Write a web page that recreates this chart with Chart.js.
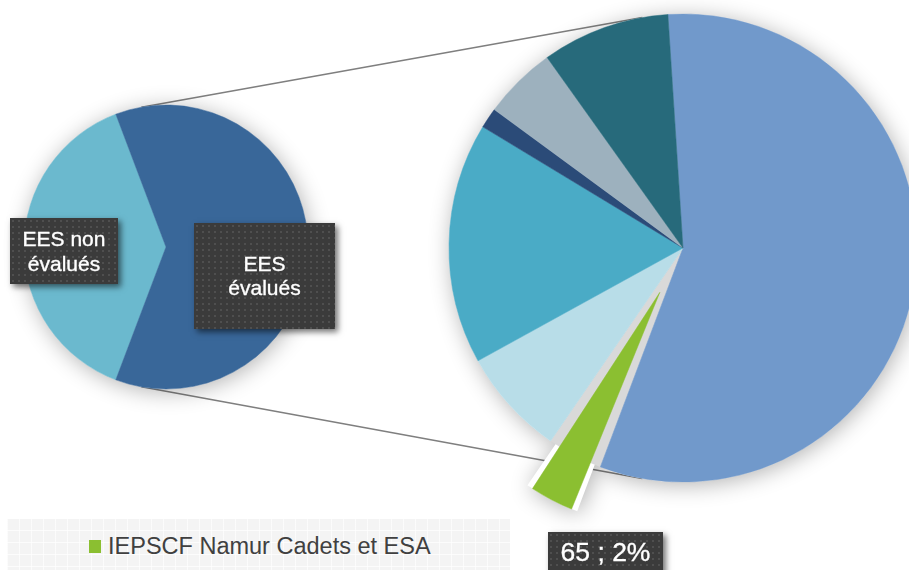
<!DOCTYPE html>
<html>
<head>
<meta charset="utf-8">
<script src="https://cdn.jsdelivr.net/npm/chart.js@4.4.1/dist/chart.umd.min.js"></script>
<style>
html,body{margin:0;padding:0;width:909px;height:570px;overflow:hidden;background:#fff;font-family:"Liberation Sans",Arial,Helvetica,sans-serif;}
#wrap{position:relative;width:909px;height:570px;overflow:hidden;}
canvas{position:absolute;}
#lines{left:0;top:0;z-index:0;}
#small{left:-4px;top:77px;z-index:1;}
#big{left:363px;top:-72px;z-index:1;}
.lbl{position:absolute;z-index:3;background-color:#3b3b3b;
  background-image:radial-gradient(circle, rgba(255,255,255,0.10) 0.9px, transparent 1.4px);
  background-size:6px 6px;color:#fff;box-shadow:3px 3px 6px rgba(0,0,0,0.55);
  -webkit-text-stroke:0.35px #fff;
  display:flex;align-items:center;justify-content:center;text-align:center;}
.lbl span{display:block;}
#lblNon{left:10px;top:218px;width:108px;height:66px;font-size:21px;line-height:25px;}
#lblNon span{width:96px;}
#lblEval{left:194px;top:223px;width:141px;height:106px;font-size:21px;line-height:24px;}
#lblEval span{width:90px;}
#lblGreen{left:548px;top:532px;width:115px;height:50px;font-size:26.5px;line-height:30px;align-items:flex-start;padding-top:5px;box-sizing:border-box;}
#legend{position:absolute;z-index:2;left:7px;top:519px;width:503px;height:60px;
  background-color:#f4f4f4;
  background-image:repeating-linear-gradient(0deg, rgba(255,255,255,0.7) 0 1px, transparent 1px 12px),
                   repeating-linear-gradient(90deg, rgba(255,255,255,0.7) 0 1px, transparent 1px 12px);}
.lgBox{position:absolute;left:82px;top:21px;width:12px;height:13px;}
.lgTxt{position:absolute;left:101px;top:14px;font-size:23.5px;line-height:27px;color:#404040;white-space:nowrap;}
</style>
</head>
<body>
<div id="wrap">
  <canvas id="lines" width="909" height="570"></canvas>
  <canvas id="small" width="340" height="340"></canvas>
  <canvas id="big" width="640" height="640"></canvas>
  <div id="legend"></div>
  <div class="lbl" id="lblNon"><span></span></div>
  <div class="lbl" id="lblEval"><span></span></div>
  <div class="lbl" id="lblGreen"><span></span></div>
</div>
<script>
// ---------- DATA ----------
const primaryLabels = ['EES non évalués', 'EES évalués'];
const primaryValues = [1063, 1698];
const primaryColors = ['#6BB9CE', '#396799'];

const secondaryLabels = ['EES 1', 'IEPSCF Namur Cadets et ESA', 'EES 2', 'EES 3', 'EES 4', 'EES 5', 'EES 6'];
const secondaryValues = [964, 65, 126, 283, 24, 86, 150];
const secondaryColors = ['#7199CB', '#8BBF31', '#B8DDE8', '#4AABC6', '#2B4B78', '#9DB1BE', '#276A7B'];

const explodedLabel = 'IEPSCF Namur Cadets et ESA';
const legendShown = ['IEPSCF Namur Cadets et ESA'];

// ---------- PLUGINS ----------
// Chart.js v4 translates an arc by offset/4 and also grows its radius;
// keep the radius equal to the pie radius so the slice is purely pulled out.
const explodeFix = {
  id:'explodeFix',
  afterDatasetUpdate(chart, args){
    const meta = chart.getDatasetMeta(args.index);
    const R = meta.controller.outerRadius;
    meta.data.forEach(a => {
      a.$baseR = R;
      const o = (a.options && a.options.offset) || 0;
      if (o) {
        const fix = 1 - Math.sin(Math.min(Math.PI, a.circumference || 0));
        a.outerRadius = R - (o / 4) * fix;
      }
    });
  }
};
function arcGeom(a){
  const p = a.getProps(['x','y','startAngle','endAngle'], true);
  const off = ((a.options && a.options.offset) || 0) / 4;
  const mid = (p.startAngle + p.endAngle) / 2;
  return {x:p.x, y:p.y, s:p.startAngle, e:p.endAngle, r:a.$baseR, off:off,
          ox:p.x + Math.cos(mid)*off, oy:p.y + Math.sin(mid)*off};
}
const shadowPlugin = {
  id:'pieShadow',
  beforeDatasetsDraw(chart){
    const ctx = chart.ctx;
    const arcs = chart.getDatasetMeta(0).data;
    ctx.save();
    ctx.shadowColor = 'rgba(0,0,0,0.30)';
    ctx.shadowBlur = 22;
    ctx.shadowOffsetX = 2;
    ctx.shadowOffsetY = 3;
    ctx.fillStyle = '#ffffff';
    ctx.beginPath();
    arcs.forEach(a => {
      const g = arcGeom(a);
      ctx.moveTo(g.ox, g.oy);
      ctx.arc(g.ox, g.oy, g.r, g.s, g.e);
      ctx.closePath();
    });
    ctx.fill();
    ctx.restore();
    ctx.save();
    ctx.fillStyle = '#D9D9D9';
    arcs.forEach(a => {
      const g = arcGeom(a);
      if (g.off > 0) {
        ctx.beginPath();
        ctx.moveTo(g.x, g.y);
        ctx.arc(g.x, g.y, g.r, g.s, g.e);
        ctx.closePath();
        ctx.fill();
      }
    });
    ctx.restore();
  }
};

const common = {
  responsive:false, animation:false,
  layout:{padding:0},
  plugins:{legend:{display:false}, tooltip:{enabled:false}}
};

// ---------- CHARTS ----------
const smallChart = new Chart(document.getElementById('small'), {
  type:'pie',
  data:{labels:primaryLabels, datasets:[{data:primaryValues, backgroundColor:primaryColors,
        borderColor:primaryColors, borderWidth:0.5}]},
  options:Object.assign({}, common, {rotation:200.7, radius:142}),
  plugins:[explodeFix, shadowPlugin]
});

const bigChart = new Chart(document.getElementById('big'), {
  type:'pie',
  data:{labels:secondaryLabels, datasets:[{data:secondaryValues, backgroundColor:secondaryColors,
        borderColor:secondaryColors, borderWidth:0.5,
        offset:secondaryLabels.map(l => l === explodedLabel ? 200 : 0)}]},
  options:Object.assign({}, common, {rotation:-3.7, radius:234}),
  plugins:[explodeFix, shadowPlugin]
});

// ---------- CONNECTOR LINES ----------
(function(){
  const c = document.getElementById('lines');
  const ctx = c.getContext('2d');
  const sCan = document.getElementById('small'), bCan = document.getElementById('big');
  const s = arcGeom(smallChart.getDatasetMeta(0).data[0]);
  const b = arcGeom(bigChart.getDatasetMeta(0).data[0]);
  const sc = {x:s.x + sCan.offsetLeft, y:s.y + sCan.offsetTop, r:s.r};
  const bc = {x:b.x + bCan.offsetLeft, y:b.y + bCan.offsetTop, r:b.r};
  const tilt = 10 * Math.PI / 180;
  [-Math.PI/2 - tilt, Math.PI/2 + tilt].forEach(a => {
    ctx.beginPath();
    ctx.moveTo(sc.x + sc.r*Math.cos(a), sc.y + sc.r*Math.sin(a));
    ctx.lineTo(bc.x + bc.r*Math.cos(a), bc.y + bc.r*Math.sin(a));
    ctx.strokeStyle = '#7f7f7f';
    ctx.lineWidth = 1.5;
    ctx.stroke();
  });
})();

// ---------- LABELS ----------
document.querySelector('#lblNon span').textContent = primaryLabels[0];
document.querySelector('#lblEval span').textContent = primaryLabels[1];
(function(){
  const grand = primaryValues.reduce((a,b)=>a+b, 0);
  const i = secondaryLabels.indexOf(explodedLabel);
  const v = secondaryValues[i];
  document.querySelector('#lblGreen span').textContent = v + ' ; ' + Math.round(v/grand*100) + '%';
})();

// ---------- LEGEND ----------
(function(){
  const lg = document.getElementById('legend');
  legendShown.forEach(name => {
    const i = secondaryLabels.indexOf(name);
    const box = document.createElement('div');
    box.className = 'lgBox';
    box.style.background = secondaryColors[i];
    const t = document.createElement('div');
    t.className = 'lgTxt';
    t.textContent = secondaryLabels[i];
    lg.appendChild(box); lg.appendChild(t);
  });
})();
</script>
</body>
</html>
